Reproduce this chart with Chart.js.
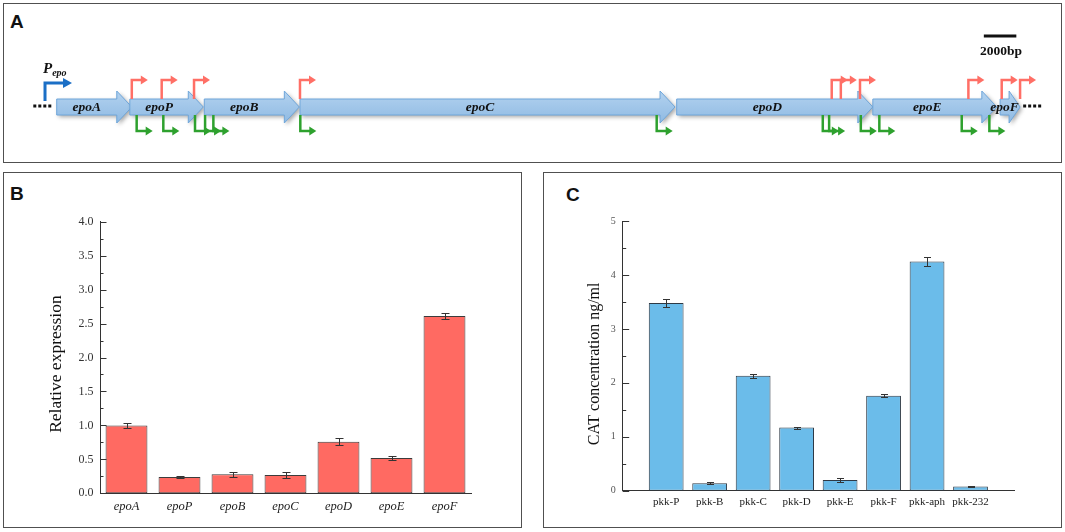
<!DOCTYPE html>
<html>
<head>
<meta charset="utf-8">
<script src="https://cdn.jsdelivr.net/npm/chart.js@4.4.0/dist/chart.umd.min.js"></script>
<style>
  body { margin: 0; width: 1065px; height: 532px; background: #fff; position: relative; overflow: hidden; }
  .box { position: absolute; box-sizing: border-box; border: 1.5px solid #505050; }
  .plot { position: absolute; }
  .tag { position: absolute; font: bold 19px 'Liberation Sans', Arial, sans-serif; color: #111; line-height: normal; }
</style>
</head>
<body>
<div class="box" style="left:3px;top:3px;width:1059px;height:160px"></div>
<div class="box" style="left:3px;top:172px;width:519px;height:356px"></div>
<div class="box" style="left:543px;top:172px;width:519px;height:356px"></div>
<div class="tag" style="left:10px;top:11px">A</div>
<div class="tag" style="left:10px;top:183px">B</div>
<div class="tag" style="left:566px;top:184px">C</div>
<div class="plot" style="left:3px;top:3px;width:1059px;height:160px"><canvas id="mapChart"></canvas></div>
<div class="plot" style="left:3px;top:172px;width:519px;height:356px"><canvas id="exprChart"></canvas></div>
<div class="plot" style="left:543px;top:172px;width:519px;height:356px"><canvas id="catChart"></canvas></div>
<script>
// gene cluster map (positions in kb)
const geneNames = ['epoA', 'epoP', 'epoB', 'epoC', 'epoD', 'epoE', 'epoF'];
const geneStart = [0, 4.5, 9.08, 14.97, 38.15, 50.22, 58.05];
const geneEnd = [4.62, 9.02, 14.93, 38.05, 50.22, 57.85, 59.28];
const mainPromoter = -0.72;
const redPromoters = [4.62, 6.46, 8.45, 14.97, 47.69, 48.25, 49.43, 56.1, 58.15, 59.28];
const greenPromoters = [4.92, 6.56, 8.51, 9.13, 9.64, 14.99, 36.92, 47.14, 47.53, 49.48, 50.62, 55.69, 57.39];
const scaleBarKb = 2;
const scaleBarStart = 57.05;

// B: relative expression
const exprValues = [1.00, 0.24, 0.28, 0.27, 0.76, 0.52, 2.61];
const exprErrors = [0.035, 0.012, 0.04, 0.04, 0.05, 0.035, 0.04];

// C: CAT concentration
const catLabels = ['pkk-P', 'pkk-B', 'pkk-C', 'pkk-D', 'pkk-E', 'pkk-F', 'pkk-aph', 'pkk-232'];
const catValues = [3.48, 0.14, 2.13, 1.17, 0.20, 1.76, 4.25, 0.08];
const catErrors = [0.07, 0.02, 0.04, 0.02, 0.04, 0.03, 0.08, 0.01];

const SERIF = '"Liberation Serif", "Times New Roman", serif';

function arrowHead(ctx, x, y, len, half) {
  ctx.beginPath();
  ctx.moveTo(x, y - half);
  ctx.lineTo(x + len, y);
  ctx.lineTo(x, y + half);
  ctx.closePath();
  ctx.fill();
}

const geneMap = {
  id: 'geneMap',
  afterDatasetsDraw(chart) {
    const { ctx, scales: { x, y } } = chart;
    const yc = y.getPixelForValue(0);
    const px = kb => x.getPixelForValue(kb);
    ctx.save();

    // dotted flanks
    ctx.strokeStyle = '#111';
    ctx.lineWidth = 3;
    ctx.setLineDash([3, 2]);
    [[-1.44, -0.21], [59.47, 60.7]].forEach(([a, b]) => {
      ctx.beginPath();
      ctx.moveTo(px(a), yc - 1);
      ctx.lineTo(px(b), yc - 1);
      ctx.stroke();
    });
    ctx.setLineDash([]);

    // genes
    geneNames.forEach((name, i) => {
      const x0 = px(geneStart[i]);
      const x1 = px(geneEnd[i]);
      const hl = Math.min(15, (x1 - x0) * 0.55);
      const xb = x1 - hl;
      ctx.beginPath();
      ctx.moveTo(x0, yc - 8);
      ctx.lineTo(xb, yc - 8);
      ctx.lineTo(xb, yc - 16);
      ctx.lineTo(x1, yc);
      ctx.lineTo(xb, yc + 16);
      ctx.lineTo(xb, yc + 8);
      ctx.lineTo(x0, yc + 8);
      ctx.closePath();
      const grad = ctx.createLinearGradient(0, yc - 16, 0, yc + 16);
      grad.addColorStop(0, '#b3d2ef');
      grad.addColorStop(1, '#8fbae3');
      ctx.fillStyle = grad;
      ctx.shadowColor = 'rgba(0,0,0,0.35)';
      ctx.shadowBlur = 4;
      ctx.shadowOffsetX = 2;
      ctx.shadowOffsetY = 2;
      ctx.fill();
      ctx.shadowColor = 'transparent';
      ctx.strokeStyle = '#6fa6da';
      ctx.lineWidth = 1;
      ctx.stroke();
    });
    ctx.fillStyle = '#111';
    ctx.font = 'bold italic 13.5px ' + SERIF;
    ctx.textAlign = 'center';
    ctx.textBaseline = 'middle';
    geneNames.forEach((name, i) => {
      const x0 = px(geneStart[i]);
      const x1 = px(geneEnd[i]);
      const xb = x1 - Math.min(15, (x1 - x0) * 0.55);
      ctx.fillText(name, (x0 + xb) / 2, yc + 1);
    });

    // internal promoters
    ctx.lineWidth = 2.5;
    ctx.strokeStyle = ctx.fillStyle = '#ff6f66';
    redPromoters.forEach(kb => {
      const xp = px(kb);
      ctx.beginPath();
      ctx.moveTo(xp, yc - 8);
      ctx.lineTo(xp, yc - 27);
      ctx.lineTo(xp + 10, yc - 27);
      ctx.stroke();
      arrowHead(ctx, xp + 9, yc - 27, 7, 4.5);
    });
    ctx.strokeStyle = ctx.fillStyle = '#2ea12e';
    greenPromoters.forEach(kb => {
      const xp = px(kb);
      ctx.beginPath();
      ctx.moveTo(xp, yc + 8);
      ctx.lineTo(xp, yc + 24);
      ctx.lineTo(xp + 10, yc + 24);
      ctx.stroke();
      arrowHead(ctx, xp + 9, yc + 24, 7, 4.5);
    });

    // main promoter
    const xm = px(mainPromoter);
    ctx.lineWidth = 3;
    ctx.strokeStyle = ctx.fillStyle = '#1b6fc6';
    ctx.beginPath();
    ctx.moveTo(xm, yc - 6);
    ctx.lineTo(xm, yc - 24);
    ctx.lineTo(xm + 19, yc - 24);
    ctx.stroke();
    arrowHead(ctx, xm + 18, yc - 24, 9, 5);
    ctx.fillStyle = '#111';
    ctx.textAlign = 'left';
    ctx.textBaseline = 'alphabetic';
    ctx.font = 'bold italic 15px ' + SERIF;
    ctx.fillText('P', xm - 2, yc - 34);
    const pw = ctx.measureText('P').width;
    ctx.font = 'bold italic 10px ' + SERIF;
    ctx.fillText('epo', xm - 2 + pw, yc - 31);

    // scale bar
    const s0 = px(scaleBarStart);
    const s1 = px(scaleBarStart + scaleBarKb);
    ctx.strokeStyle = '#111';
    ctx.lineWidth = 3;
    ctx.beginPath();
    ctx.moveTo(s0, yc - 71);
    ctx.lineTo(s1, yc - 71);
    ctx.stroke();
    ctx.font = 'bold 13.5px ' + SERIF;
    ctx.textAlign = 'center';
    ctx.textBaseline = 'middle';
    ctx.fillText(scaleBarKb * 1000 + 'bp', (s0 + s1) / 2 + 1, yc - 55.5);
    ctx.restore();
  }
};

const errorBars = {
  id: 'errorBars',
  afterDatasetsDraw(chart, args, opts) {
    const errs = opts.errors;
    if (!errs) return;
    const { ctx, scales: { y } } = chart;
    const meta = chart.getDatasetMeta(0);
    const vals = chart.data.datasets[0].data;
    ctx.save();
    ctx.strokeStyle = opts.color;
    ctx.lineWidth = 1;
    meta.data.forEach((bar, i) => {
      const v = vals[i], e = errs[i];
      if (v == null || e == null) return;
      const xx = Math.round(bar.x) + 0.5;
      const yt = Math.round(y.getPixelForValue(v + e)) + 0.5;
      const yb = Math.round(y.getPixelForValue(v - e)) + 0.5;
      ctx.beginPath();
      ctx.moveTo(xx, yt); ctx.lineTo(xx, yb);
      ctx.moveTo(xx - opts.cap, yt); ctx.lineTo(xx + opts.cap, yt);
      ctx.moveTo(xx - opts.cap, yb); ctx.lineTo(xx + opts.cap, yb);
      ctx.stroke();
    });
    ctx.restore();
  }
};

// tick marks pointing into the plot, with one minor tick between majors
const innerTicks = {
  id: 'innerTicks',
  afterDraw(chart, args, opts) {
    const { ctx, chartArea, scales: { y } } = chart;
    const step = opts.step;
    ctx.save();
    ctx.strokeStyle = opts.color;
    ctx.lineWidth = 1;
    for (let k = 0; y.min + k * step / 2 <= y.max + 1e-9; k++) {
      const v = y.min + k * step / 2;
      const py = Math.round(y.getPixelForValue(v)) + 0.5;
      ctx.beginPath();
      ctx.moveTo(chartArea.left, py);
      ctx.lineTo(chartArea.left + (k % 2 === 0 ? 6.5 : 3.5), py);
      ctx.stroke();
    }
    ctx.restore();
  }
};

new Chart(document.getElementById('mapChart'), {
  type: 'scatter',
  data: { datasets: [] },
  options: {
    responsive: true,
    maintainAspectRatio: false,
    animation: false,
    layout: { padding: 0 },
    plugins: { legend: { display: false }, tooltip: { enabled: false } },
    scales: {
      x: { type: 'linear', display: false, min: -3.305, max: 61.86 },
      y: { type: 'linear', display: false, min: -3.5, max: 6.5 }
    }
  },
  plugins: [geneMap]
});

new Chart(document.getElementById('exprChart'), {
  type: 'bar',
  data: {
    labels: geneNames,
    datasets: [{
      data: exprValues,
      backgroundColor: '#ff6a62',
      borderColor: '#3c3c3c',
      borderWidth: 1,
      borderSkipped: false,
      barPercentage: 0.79,
      categoryPercentage: 1
    }]
  },
  options: {
    responsive: true,
    maintainAspectRatio: false,
    animation: false,
    layout: { padding: { left: 0, top: 49.7, right: 51, bottom: 0 } },
    plugins: {
      legend: { display: false },
      tooltip: { enabled: false },
      errorBars: { errors: exprErrors, color: '#333', cap: 4 },
      innerTicks: { step: 0.5, color: '#333' }
    },
    scales: {
      x: {
        grid: { display: false, drawTicks: false },
        border: { color: '#333', width: 1 },
        ticks: { color: '#222', padding: 6, autoSkip: false, maxRotation: 0,
                 font: { family: SERIF, style: 'italic', size: 12.5 } },
        afterFit(s) { s.height = 34.7; }
      },
      y: {
        min: 0,
        max: 4,
        grid: { display: false, drawTicks: false },
        border: { color: '#333', width: 1 },
        ticks: { stepSize: 0.5, padding: 6.5, color: '#333', font: { family: SERIF, size: 12 },
                 callback: v => v.toFixed(1) },
        // trailing spaces nudge the centred title slightly down, as in the figure
        title: { display: true, text: 'Relative expression   ', color: '#111',
                 font: { family: SERIF, size: 17.5 }, padding: { top: 43.2, bottom: 0 } },
        afterFit(s) { s.width = 97; }
      }
    }
  },
  plugins: [errorBars, innerTicks]
});

// one empty slot on each side of the C categories
new Chart(document.getElementById('catChart'), {
  type: 'bar',
  data: {
    labels: ['', ...catLabels, ''],
    datasets: [{
      data: [null, ...catValues, null],
      backgroundColor: '#6bbcea',
      borderColor: '#2e3a46',
      borderWidth: 1,
      borderSkipped: false,
      barPercentage: 0.8,
      categoryPercentage: 1
    }]
  },
  options: {
    responsive: true,
    maintainAspectRatio: false,
    animation: false,
    layout: { padding: { left: 0, top: 49, right: 48, bottom: 0 } },
    plugins: {
      legend: { display: false },
      tooltip: { enabled: false },
      errorBars: { errors: [null, ...catErrors, null], color: '#333', cap: 3.5 },
      innerTicks: { step: 1, color: '#333' }
    },
    scales: {
      x: {
        offset: false,
        grid: { display: false, drawTicks: false, offset: false },
        border: { color: '#333', width: 1 },
        ticks: { color: '#222', padding: 5, autoSkip: false, maxRotation: 0,
                 font: { family: SERIF, size: 11 } },
        afterFit(s) { s.height = 37.3; }
      },
      y: {
        min: 0,
        max: 5,
        grid: { display: false, drawTicks: false },
        border: { color: '#333', width: 1 },
        ticks: { stepSize: 1, padding: 7, color: '#555', font: { family: SERIF, size: 10 } },
        title: { display: true, text: 'CAT concentration ng/ml    ', color: '#111',
                 font: { family: SERIF, size: 16 }, padding: { top: 42, bottom: 0 } },
        afterFit(s) { s.width = 79.7; }
      }
    }
  },
  plugins: [errorBars, innerTicks]
});
</script>
</body>
</html>
